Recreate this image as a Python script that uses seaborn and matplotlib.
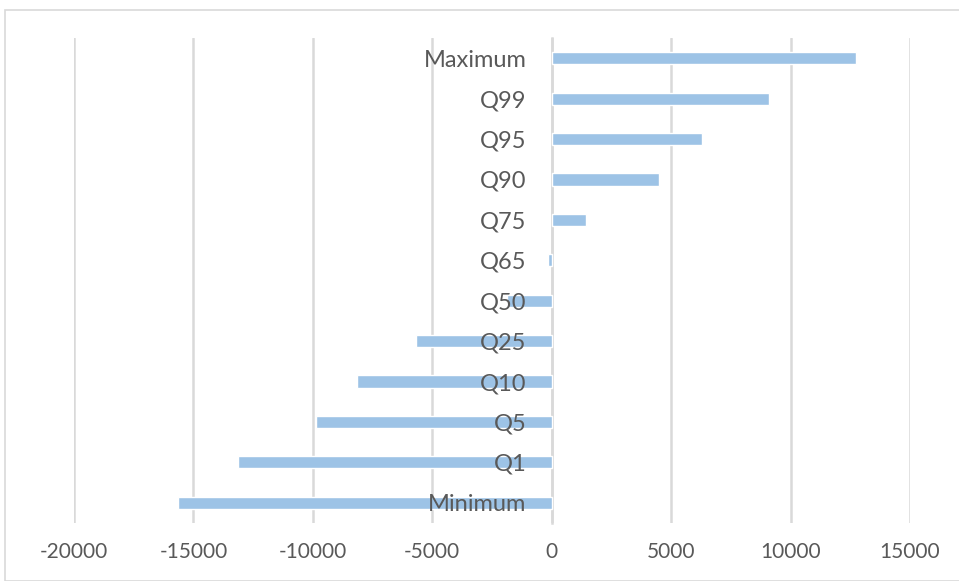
import matplotlib
matplotlib.use("Agg")
import matplotlib.pyplot as plt
import seaborn as sns
import pandas as pd
from matplotlib.patches import Rectangle

categories = ["Maximum", "Q99", "Q95", "Q90", "Q75", "Q65", "Q50",
              "Q25", "Q10", "Q5", "Q1", "Minimum"]
values = [12750, 9080, 6310, 4510, 1420, -170, -1880,
          -5700, -8160, -9870, -13150, -15640]
x_ticks = [-20000, -15000, -10000, -5000, 0, 5000, 10000, 15000]

df = pd.DataFrame({"stat": categories, "value": values})

sns.set_theme(style="white")
plt.rcParams["font.family"] = ["Lato", "DejaVu Sans"]

text_color = "#595959"
grid_color = "#d9d9d9"
bar_color = "#9dc3e6"

fig = plt.figure(figsize=(9.59, 5.81), dpi=100)
ax = fig.add_axes([74 / 959, 1 - 523 / 581, (910 - 74) / 959, (523 - 38) / 581])

sns.barplot(data=df, x="value", y="stat", order=categories, orient="h",
            color=bar_color, saturation=1, width=0.3, ax=ax, zorder=2)

ax.set_xlim(x_ticks[0], x_ticks[-1])
ax.set_ylim(len(categories) - 0.5, -0.5)
ax.set_xticks(x_ticks)
ax.set_xticklabels([str(t) for t in x_ticks])
ax.xaxis.grid(True, color=grid_color, linewidth=1.8)
ax.xaxis.set_zorder(0.5)
ax.yaxis.set_zorder(5)

for side in ["top", "right", "bottom"]:
    ax.spines[side].set_visible(False)
ax.spines["left"].set_position(("data", 0))
ax.spines["left"].set_color(grid_color)
ax.spines["left"].set_linewidth(1.8)
ax.spines["left"].set_zorder(1)

ax.tick_params(axis="y", length=0, pad=18, labelsize=17, labelcolor=text_color)
ax.tick_params(axis="x", length=0, pad=14, labelsize=15, labelcolor=text_color)
ax.set_xlabel("")
ax.set_ylabel("")

fig.patches.append(Rectangle((5 / 959, 0), 1, 1 - 10 / 581, transform=fig.transFigure,
                             fill=False, edgecolor=grid_color, linewidth=1.2))

fig.savefig("out.png", dpi=100)
